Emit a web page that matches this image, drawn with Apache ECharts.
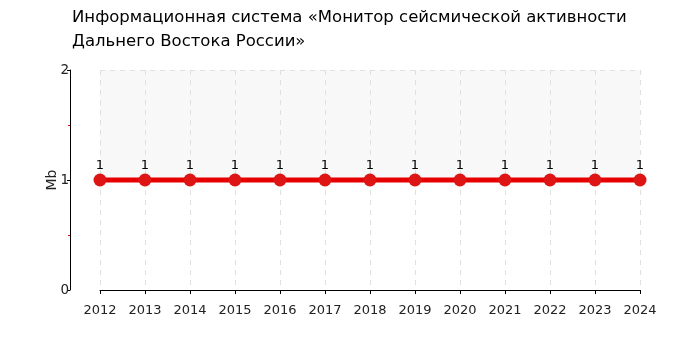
<!DOCTYPE html>
<html><head><meta charset="utf-8">
<script src="https://cdn.jsdelivr.net/npm/echarts@6/dist/echarts.min.js"></script>
<style>html,body{margin:0;padding:0;background:#fff}#c{width:700px;height:350px}</style>
</head><body><div id="c"></div>
<script>
const titleText = "Информационная система «Монитор сейсмической активности\nДальнего Востока России»";
const years = ["2012","2013","2014","2015","2016","2017","2018","2019","2020","2021","2022","2023","2024"];
const values = [1,1,1,1,1,1,1,1,1,1,1,1,1];
const yName = "Mb";
const chart = echarts.init(document.getElementById('c'), null, {renderer:'canvas'});
chart.setOption({
  animation:false,
  textStyle:{fontFamily:'DejaVu Sans'},
  title:{text:titleText,left:67,top:1,textStyle:{fontFamily:'DejaVu Sans',fontSize:16.5,fontWeight:'normal',color:'#000',lineHeight:24}},
  grid:{left:100,right:60,top:70,bottom:60},
  xAxis:{type:'category',data:years,boundaryGap:false,offset:10,
    axisLine:{lineStyle:{color:'#000',width:1}},
    axisTick:{alignWithLabel:true,length:4,lineStyle:{color:'#000'}},
    axisLabel:{color:'#222',fontSize:13,margin:4,fontFamily:'DejaVu Sans'},
    splitLine:{show:true,lineStyle:{color:'#e0e0e0',type:[5,5]}}},
  yAxis:{type:'value',min:0,max:2,interval:1,offset:30,name:yName,nameLocation:'middle',nameGap:11,nameMoveOverlap:false,
    nameTextStyle:{color:'#222',fontSize:14,fontFamily:'DejaVu Sans'},
    axisLine:{show:true,lineStyle:{color:'#000',width:1}},
    axisTick:{show:true,length:3,lineStyle:{color:'#000'}},
    minorTick:{show:true,splitNumber:2,length:2,lineStyle:{color:'#e00000'}},
    axisLabel:{color:'#222',fontSize:13.5,margin:1,fontFamily:'DejaVu Sans'},
    splitLine:{show:true,lineStyle:{color:'#e0e0e0',type:[5,5]}},
    splitArea:{show:true,areaStyle:{color:['rgba(255,255,255,0)','#f8f8f8']}}},
  series:[{type:'line',data:values,symbol:'circle',symbolSize:13,
    lineStyle:{color:'#e60000',width:5},
    itemStyle:{color:'#dd1515'},
    label:{show:true,position:'top',distance:1,color:'#000',fontSize:13,fontFamily:'DejaVu Sans'}}]
});
</script></body></html>
